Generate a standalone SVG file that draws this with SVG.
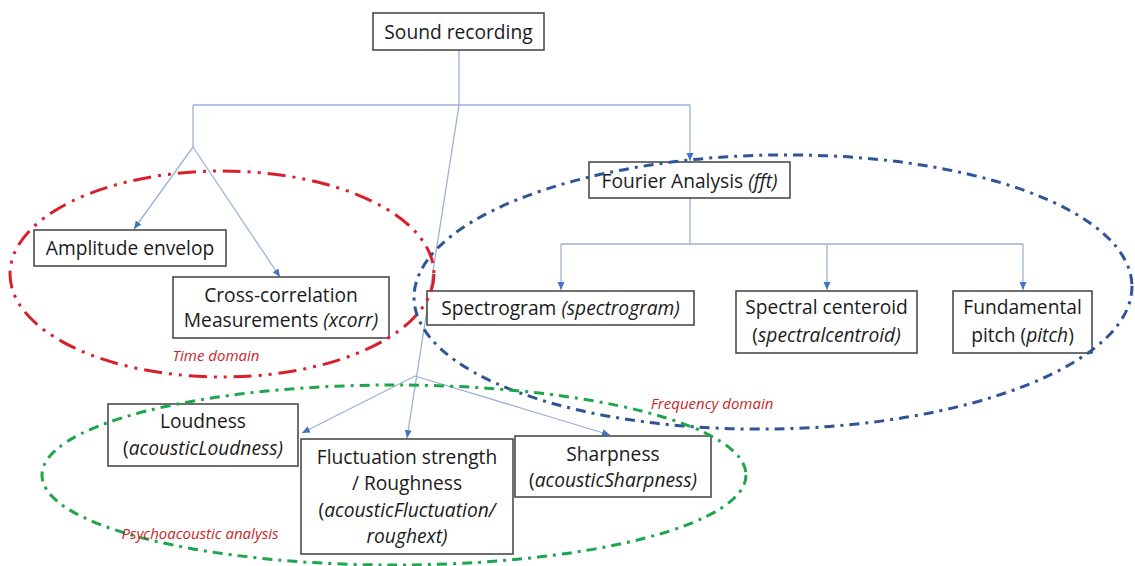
<svg xmlns="http://www.w3.org/2000/svg" width="1135" height="566" viewBox="0 0 1135 566">
<defs>
<marker id="arr" markerUnits="userSpaceOnUse" markerWidth="9" markerHeight="8" refX="8" refY="3.5" orient="auto">
<path d="M0,0 L8,3.5 L0,7 z" fill="#4472c4"/>
</marker>
<style>
.box{fill:#fff;stroke:#404040;stroke-width:1.5}
.t{font-family:"Open Sans","Liberation Sans",sans-serif;font-size:19.2px;fill:#1a1a1a;text-anchor:middle}
.i{font-style:italic}
.lbl{font-family:"Open Sans","Liberation Sans",sans-serif;font-size:15px;font-style:italic;fill:#c62828}
.c{fill:none;stroke:#9bb1d6;stroke-width:1.3}
.ca{fill:none;stroke:#9bb1d6;stroke-width:1.3;marker-end:url(#arr)}
.ell{fill:none;stroke-width:3}
</style>
</defs>
<rect width="1135" height="566" fill="#fff"/>

<g id="connectors">
<path class="c" d="M459,50 L459,105 M193,105 L690,105 M193,105 L193,147"/>
<path class="ca" d="M690,105 L690,161"/>
<path class="ca" d="M193,147 L134,229"/>
<path class="ca" d="M193,147 L280,277"/>
<path class="ca" d="M459,105 L407,438"/>
<path class="ca" d="M415,376 L302,433"/>
<path class="ca" d="M415,376 L610,435"/>
<path class="c" d="M690,198 L690,244 M561,244 L1023,244"/>
<path class="ca" d="M561,244 L561,290"/>
<path class="ca" d="M827,244 L827,290"/>
<path class="ca" d="M1023,244 L1023,290"/>
</g>

<g id="sound-recording">
<rect class="box" x="373" y="13" width="171" height="37"/>
<text class="t" x="458.5" y="39">Sound recording</text>
</g>
<g id="amplitude-envelop">
<rect class="box" x="34" y="230" width="192" height="36"/>
<text class="t" x="130" y="255">Amplitude envelop</text>
</g>
<g id="cross-correlation">
<rect class="box" x="173" y="277" width="216" height="61"/>
<text class="t" x="281" y="302">Cross-correlation</text>
<text class="t" x="281" y="327">Measurements <tspan class="i">(xcorr)</tspan></text>
</g>
<g id="fourier">
<rect class="box" x="589" y="162" width="201" height="36"/>
<text class="t" x="689.5" y="188">Fourier Analysis <tspan class="i">(fft)</tspan></text>
</g>
<g id="spectrogram">
<rect class="box" x="427" y="291" width="267" height="34"/>
<text class="t" x="560.5" y="315">Spectrogram <tspan class="i">(spectrogram)</tspan></text>
</g>
<g id="spectral-centeroid">
<rect class="box" x="736" y="291" width="181" height="62"/>
<text class="t" x="826.5" y="314">Spectral centeroid</text>
<text class="t" x="826.5" y="342">(<tspan class="i">spectralcentroid)</tspan></text>
</g>
<g id="fundamental-pitch">
<rect class="box" x="953" y="291" width="139" height="62"/>
<text class="t" x="1022.5" y="314">Fundamental</text>
<text class="t" x="1022.5" y="342">pitch (<tspan class="i">pitch</tspan>)</text>
</g>
<g id="loudness">
<rect class="box" x="108" y="404" width="190" height="62"/>
<text class="t" x="203" y="428">Loudness</text>
<text class="t" x="203" y="455">(<tspan class="i">acousticLoudness)</tspan></text>
</g>
<g id="fluctuation">
<rect class="box" x="301" y="439" width="212" height="115"/>
<text class="t" x="407" y="464">Fluctuation strength</text>
<text class="t" x="407" y="490">/ Roughness</text>
<text class="t" x="407" y="517">(<tspan class="i">acousticFluctuation/</tspan></text>
<text class="t i" x="407" y="543">roughext)</text>
</g>
<g id="sharpness">
<rect class="box" x="515" y="436" width="196" height="61"/>
<text class="t" x="613" y="461">Sharpness</text>
<text class="t" x="613" y="487">(<tspan class="i">acousticSharpness)</tspan></text>
</g>

<g id="domains">
<ellipse class="ell" cx="222" cy="274" rx="212" ry="103" stroke="#d9202a" stroke-dasharray="18 7 3 7 3 7"/>
<ellipse class="ell" cx="773" cy="292" rx="359" ry="137" transform="rotate(-1 773 292)" stroke="#2f5597" stroke-dasharray="10 6 3 6"/>
<ellipse class="ell" cx="394" cy="475" rx="352" ry="90" stroke="#1ea64c" stroke-dasharray="10 6 3 6"/>
<text class="lbl" x="216" y="361" text-anchor="middle">Time domain</text>
<text class="lbl" x="712" y="409" text-anchor="middle">Frequency domain</text>
<text class="lbl" x="200" y="539" text-anchor="middle">Psychoacoustic analysis</text>
</g>
</svg>
